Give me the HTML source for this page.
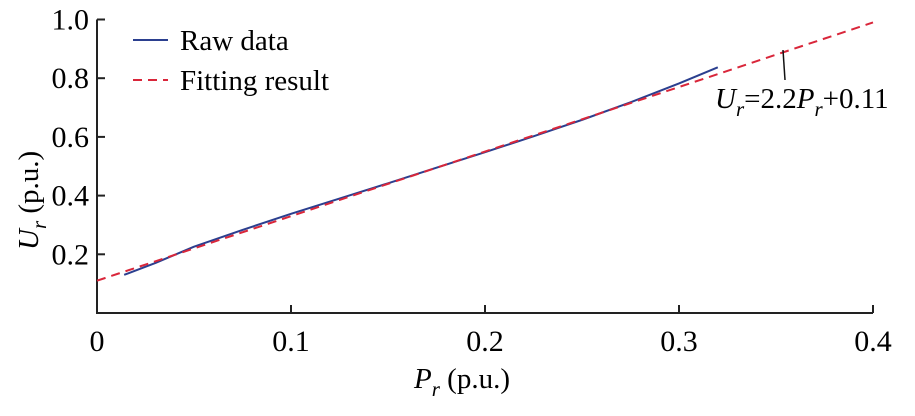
<!DOCTYPE html>
<html><head><meta charset="utf-8"><style>
body{margin:0;background:#fff}
svg, svg text{font-family:"Liberation Serif","DejaVu Serif",serif}
</style></head><body>
<svg width="915" height="411" font-family="Liberation Serif, serif">
<g id="axes"></g>
<g id="marks"></g>
<g>
<line x1="133" y1="40" x2="168" y2="40" stroke="#2b3f8f" stroke-width="2"/>
<text x="180" y="50" font-size="29">Raw data</text>
<line x1="133" y1="80" x2="168" y2="80" stroke="#d9263a" stroke-width="2" stroke-dasharray="9,6"/>
<text x="180" y="90" font-size="29">Fitting result</text>
</g>
<line x1="783" y1="50" x2="785" y2="80" stroke="#111" stroke-width="1.5"/>
<text x="715" y="108" font-size="29"><tspan font-style="italic">U</tspan><tspan font-style="italic" font-size="21" dy="8">r</tspan><tspan dy="-8">=2.2</tspan><tspan font-style="italic">P</tspan><tspan font-style="italic" font-size="21" dy="8">r</tspan><tspan dy="-8">+0.11</tspan></text>
<text x="414" y="388" font-size="29"><tspan font-style="italic">P</tspan><tspan font-style="italic" font-size="21" dy="8">r</tspan><tspan dy="-8"> (p.u.)</tspan></text>
<text transform="translate(38,250) rotate(-90)" font-size="29"><tspan font-style="italic">U</tspan><tspan font-style="italic" font-size="21" dy="8">r</tspan><tspan dy="-8"> (p.u.)</tspan></text>
</svg>
<script>
const xTicks=[0,0.1,0.2,0.3,0.4];
const xTickLabels=["0","0.1","0.2","0.3","0.4"];
const yTicks=[0.2,0.4,0.6,0.8,1.0];
const yTickLabels=["0.2","0.4","0.6","0.8","1.0"];
const rawP=[0.014,0.03,0.05,0.075,0.1,0.125,0.15,0.175,0.2,0.225,0.25,0.275,0.3,0.32];
const rawU=[0.13,0.17,0.226,0.283,0.338,0.39,0.442,0.495,0.548,0.602,0.658,0.718,0.782,0.837];
const fitSlope=2.2, fitIntercept=0.11;
const fitRange=[0,0.4];
const ns="http://www.w3.org/2000/svg";
const X=v=>97+v*1940;
const Y=v=>313-v*293.5;
function mk(t,a,p){const e=document.createElementNS(ns,t);for(const k in a)e.setAttribute(k,a[k]);p.appendChild(e);return e;}
const ax=document.getElementById('axes'),mg=document.getElementById('marks');
let e=mk('path',{d:`M97,${Y(1.0)}V313H${X(0.4)}`,fill:'none',stroke:'#222','stroke-width':2},ax);


xTicks.forEach((v,i)=>{
 let l=mk('line',{x1:X(v),x2:X(v),y1:313,y2:305,stroke:'#222','stroke-width':2},ax);
 
 
 let t=mk('text',{x:X(v),y:351,'font-size':30,'text-anchor':'middle'},ax);t.textContent=xTickLabels[i];
 
 
});
yTicks.forEach((v,i)=>{
 let l=mk('line',{x1:97,x2:105,y1:Y(v),y2:Y(v),stroke:'#222','stroke-width':2},ax);
 
 
 let t=mk('text',{x:89,y:Y(v)+10,'font-size':30,'text-anchor':'end'},ax);t.textContent=yTickLabels[i];
 
 
});
let raw=mk('polyline',{points:rawP.map((p,i)=>X(p)+','+Y(rawU[i])).join(' '),fill:'none',stroke:'#2b3f8f','stroke-width':2,'stroke-linejoin':'round'},mg);


let fit=mk('line',{x1:X(fitRange[0]),y1:Y(fitIntercept+fitSlope*fitRange[0]),x2:X(fitRange[1]),y2:Y(fitIntercept+fitSlope*fitRange[1]),stroke:'#d9263a','stroke-width':2,'stroke-dasharray':'9,6'},mg);


</script>
</body></html>
